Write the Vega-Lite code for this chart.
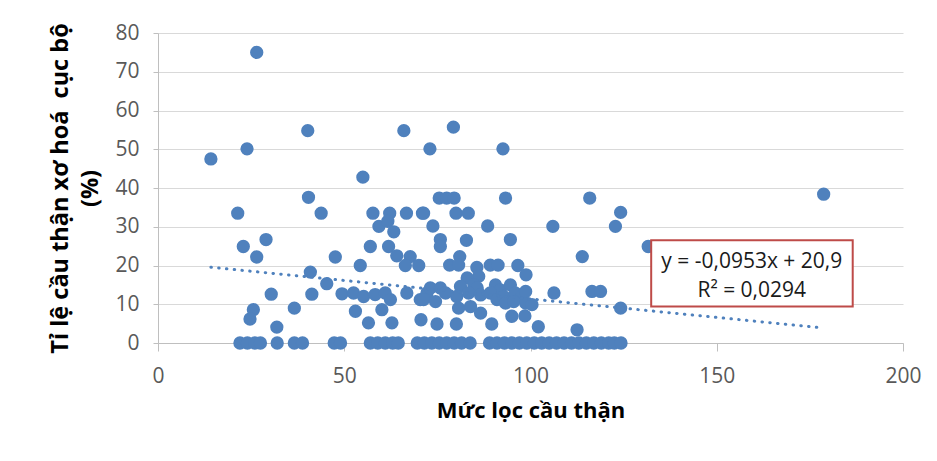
{
  "$schema": "https://vega.github.io/schema/vega-lite/v6.json",
  "width": 745,
  "height": 310,
  "autosize": "none",
  "padding": {"left": 158, "top": 33, "right": 34, "bottom": 118},
  "background": "white",
  "config": {
    "view": {"stroke": null},
    "font": "Open Sans",
    "axis": {
      "labelFont": "Open Sans",
      "labelFontSize": 21,
      "labelColor": "#595959",
      "labelOverlap": false,
      "titleFont": "Open Sans",
      "titleFontSize": 22,
      "titleFontWeight": "bold",
      "titleColor": "#000000",
      "domainColor": "#bfbfbf",
      "tickColor": "#bfbfbf",
      "gridColor": "#d9d9d9"
    }
  },
  "datasets": {
    "pts": [
      {"x": 14.2, "y": 47.5}, {"x": 23.9, "y": 50.1}, {"x": 26.5, "y": 75}, {"x": 40.2, "y": 54.8},
      {"x": 55.0, "y": 42.8}, {"x": 66.0, "y": 54.8}, {"x": 73.0, "y": 50.1}, {"x": 79.3, "y": 55.7},
      {"x": 92.6, "y": 50.1}, {"x": 178.7, "y": 38.4},
      {"x": 21.4, "y": 33.5}, {"x": 40.4, "y": 37.6}, {"x": 43.8, "y": 33.5}, {"x": 22.9, "y": 24.9},
      {"x": 29.0, "y": 26.7}, {"x": 26.5, "y": 22.2}, {"x": 47.6, "y": 22.2}, {"x": 40.9, "y": 18.3},
      {"x": 45.3, "y": 15.3}, {"x": 30.4, "y": 12.6}, {"x": 41.3, "y": 12.6}, {"x": 49.4, "y": 12.7},
      {"x": 25.6, "y": 8.6}, {"x": 24.7, "y": 6.2}, {"x": 36.6, "y": 9.0}, {"x": 31.9, "y": 4.1},
      {"x": 22, "y": 0}, {"x": 24, "y": 0}, {"x": 26, "y": 0}, {"x": 27.5, "y": 0}, {"x": 32, "y": 0},
      {"x": 36.6, "y": 0}, {"x": 38.8, "y": 0}, {"x": 47.3, "y": 0}, {"x": 49, "y": 0},
      {"x": 57.7, "y": 33.5}, {"x": 62.2, "y": 33.5}, {"x": 66.7, "y": 33.5}, {"x": 71.0, "y": 33.5},
      {"x": 59.3, "y": 30.1}, {"x": 61.7, "y": 31.4}, {"x": 63.3, "y": 28.7},
      {"x": 57, "y": 24.9}, {"x": 61.9, "y": 24.9},
      {"x": 64.1, "y": 22.5}, {"x": 67.7, "y": 22.3}, {"x": 66.4, "y": 20.0}, {"x": 70, "y": 20.0},
      {"x": 54.3, "y": 20.0},
      {"x": 52.5, "y": 12.9}, {"x": 55.2, "y": 12.0}, {"x": 58.3, "y": 12.5}, {"x": 61, "y": 12.9},
      {"x": 62.4, "y": 11.2}, {"x": 66.8, "y": 12.9}, {"x": 70.4, "y": 11.2},
      {"x": 53.0, "y": 8.2}, {"x": 56.5, "y": 5.2}, {"x": 60.1, "y": 8.6}, {"x": 62.8, "y": 5.2},
      {"x": 70.6, "y": 6.0}, {"x": 72.2, "y": 12.9}, {"x": 74.9, "y": 4.9},
      {"x": 73.8, "y": 30.2}, {"x": 75.5, "y": 37.4}, {"x": 77.5, "y": 37.4}, {"x": 79.5, "y": 37.4},
      {"x": 71.3, "y": 33.5}, {"x": 80.0, "y": 33.5}, {"x": 83.3, "y": 33.5}, {"x": 88.5, "y": 30.2},
      {"x": 93.3, "y": 37.4}, {"x": 94.6, "y": 26.7}, {"x": 75.8, "y": 26.7}, {"x": 75.8, "y": 24.9},
      {"x": 82.8, "y": 26.5}, {"x": 81, "y": 22.3}, {"x": 78.3, "y": 20.1}, {"x": 80.7, "y": 20.1},
      {"x": 85.6, "y": 19.5}, {"x": 89.2, "y": 20.1}, {"x": 91.3, "y": 20.1}, {"x": 96.6, "y": 20.0},
      {"x": 86.1, "y": 17.2}, {"x": 83, "y": 16.8}, {"x": 73.1, "y": 14.2}, {"x": 75.8, "y": 14.2},
      {"x": 81.2, "y": 14.6}, {"x": 84.8, "y": 15.0}, {"x": 85.7, "y": 14.2}, {"x": 90.6, "y": 15.0},
      {"x": 91.9, "y": 13.7}, {"x": 94.6, "y": 15.0},
      {"x": 71.3, "y": 11.2}, {"x": 74.5, "y": 10.7}, {"x": 77.2, "y": 12.9}, {"x": 80.2, "y": 12.0},
      {"x": 83.4, "y": 12.9}, {"x": 86.6, "y": 12.4}, {"x": 89.2, "y": 12.9}, {"x": 80.7, "y": 9.0},
      {"x": 83.9, "y": 9.4}, {"x": 86.6, "y": 7.7}, {"x": 91, "y": 11.2}, {"x": 92.8, "y": 12.0},
      {"x": 95.9, "y": 12.9}, {"x": 97.7, "y": 12.0}, {"x": 95, "y": 6.9}, {"x": 98.5, "y": 7.0},
      {"x": 80.1, "y": 4.9}, {"x": 89.6, "y": 4.9},
      {"x": 115.9, "y": 37.4}, {"x": 124.2, "y": 33.7}, {"x": 122.8, "y": 30.1}, {"x": 106, "y": 30.1},
      {"x": 113.9, "y": 22.3}, {"x": 131.6, "y": 24.9}, {"x": 98.8, "y": 17.6}, {"x": 106.3, "y": 12.9},
      {"x": 116.5, "y": 13.3}, {"x": 118.8, "y": 13.3}, {"x": 93.3, "y": 10.3}, {"x": 95.5, "y": 10.7},
      {"x": 98.7, "y": 10.3}, {"x": 100.4, "y": 9.9}, {"x": 102.1, "y": 4.2}, {"x": 112.5, "y": 3.4},
      {"x": 124.2, "y": 9.0}, {"x": 98.7, "y": 13.3},
      {"x": 57, "y": 0}, {"x": 59, "y": 0}, {"x": 61, "y": 0}, {"x": 63, "y": 0}, {"x": 64.5, "y": 0},
      {"x": 69.6, "y": 0}, {"x": 71.5, "y": 0}, {"x": 73.5, "y": 0}, {"x": 75.5, "y": 0}, {"x": 77.5, "y": 0},
      {"x": 79.5, "y": 0}, {"x": 81.5, "y": 0}, {"x": 83.8, "y": 0}, {"x": 89, "y": 0}, {"x": 91, "y": 0},
      {"x": 93, "y": 0}, {"x": 95, "y": 0}, {"x": 97, "y": 0}, {"x": 99, "y": 0}, {"x": 101, "y": 0},
      {"x": 103, "y": 0}, {"x": 105, "y": 0}, {"x": 107, "y": 0}, {"x": 109, "y": 0}, {"x": 111, "y": 0},
      {"x": 113, "y": 0}, {"x": 115, "y": 0}, {"x": 117, "y": 0}, {"x": 119, "y": 0}, {"x": 121, "y": 0},
      {"x": 122.5, "y": 0}, {"x": 124.3, "y": 0}
    ],
    "trend": [
      {"x": 14.2, "y": 19.55},
      {"x": 178.7, "y": 3.87}
    ],
    "box": [
      {"x": 132.4, "xe": 186.5, "y": 26.5, "ye": 9.4}
    ],
    "label": [
      {"x": 159.4, "y": 21.0, "txt": ["y = -0,0953x + 20,9", "R² = 0,0294"]}
    ]
  },
  "encoding": {
    "x": {
      "field": "x", "type": "quantitative",
      "scale": {"domain": [0, 200], "nice": false, "zero": true},
      "axis": {
        "title": "Mức lọc cầu thận",
        "values": [0, 50, 100, 150, 200],
        "grid": false,
        "tickSize": 8,
        "labelPadding": 14,
        "titlePadding": 14,
        "labelFlush": false
      }
    },
    "y": {
      "field": "y", "type": "quantitative",
      "scale": {"domain": [0, 80], "nice": false},
      "axis": {
        "title": ["Tỉ lệ cầu thận xơ hoá\u00a0 cục bộ", "(%)"],
        "values": [0, 10, 20, 30, 40, 50, 60, 70, 80],
        "tickCount": 9,
        "grid": true,
        "tickSize": 5,
        "labelPadding": 14,
        "titlePadding": 12,
        "titleFontSize": 23.5,
        "titleLineHeight": 30
      }
    }
  },
  "layer": [
    {
      "data": {"name": "pts"},
      "mark": {"type": "point", "filled": true, "shape": "circle", "size": 177, "color": "#4F81BD", "opacity": 1, "clip": false}
    },
    {
      "data": {"name": "trend"},
      "mark": {"type": "line", "color": "#4F81BD", "strokeWidth": 3, "strokeDash": [0.5, 7.3], "strokeCap": "round"}
    },
    {
      "data": {"name": "box"},
      "mark": {"type": "rect", "fill": "white", "stroke": "#BE4B48", "strokeWidth": 2},
      "encoding": {
        "x2": {"field": "xe"},
        "y2": {"field": "ye"}
      }
    },
    {
      "data": {"name": "label"},
      "mark": {"type": "text", "font": "Open Sans", "fontSize": 21, "color": "#1a1a1a", "align": "center", "baseline": "middle", "lineHeight": 29},
      "encoding": {
        "text": {"field": "txt"}
      }
    }
  ]
}
